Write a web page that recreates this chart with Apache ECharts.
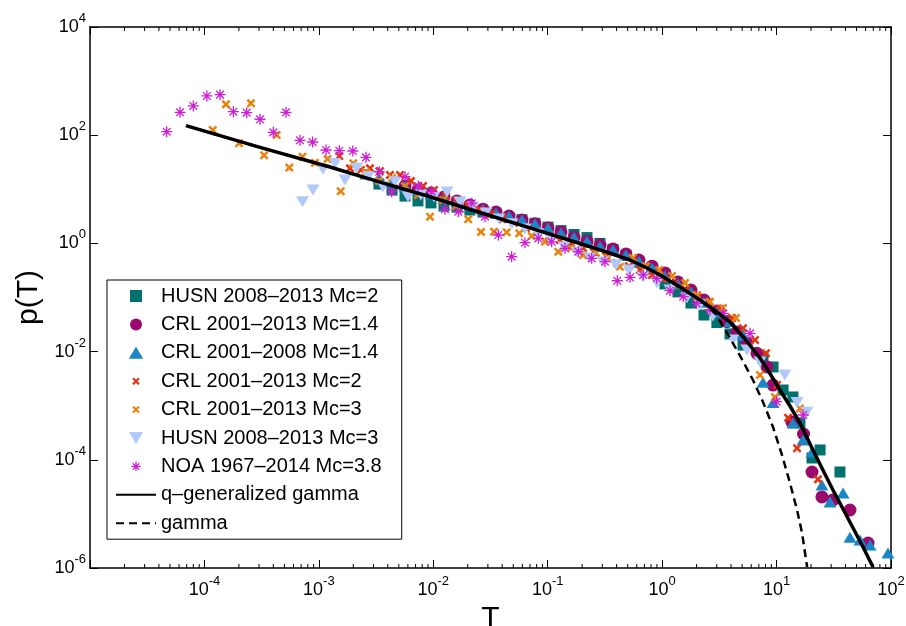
<!DOCTYPE html>
<html><head><meta charset="utf-8">
<script src="https://cdn.jsdelivr.net/npm/echarts@6/dist/echarts.min.js"></script>
<style>html,body{margin:0;padding:0;background:#fff}#c{width:906px;height:626px}</style>
</head><body><div id="c"></div>
<script>
const FONT = '"Liberation Sans", Arial, Helvetica, sans-serif';

const seriesNames = ['HUSN 2008–2013 Mc=2','CRL 2001–2013 Mc=1.4','CRL 2001–2008 Mc=1.4','CRL 2001–2013 Mc=2','CRL 2001–2013 Mc=3','HUSN 2008–2013 Mc=3','NOA 1967–2014 Mc=3.8','q–generalized gamma','gamma'];
const colors = ['#00716c','#9a0a6c','#1b86c6','#e3340d','#e8830f','#b0c8fa','#d01ed4','#000000','#000000'];

// [T, p(T)]
const husnMc2 = [[3.35e-3,12.5],[4.36e-3,9.7],[5.66e-3,7.5],[7.35e-3,6.1],[9.55e-3,5.6],[1.24e-2,4.9],[1.61e-2,4.7],[2.09e-2,4.14],[2.72e-2,3.8],[3.53e-2,3.6],[4.59e-2,3.0],[5.96e-2,2.75],[7.74e-2,2.35],[0.1006,2.0],[0.1306,1.72],[0.1697,1.46],[0.2204,1.28],[0.2863,1.0],[0.372,0.77],[0.483,0.6],[0.627,0.45],[0.815,0.34],[1.059,0.178],[1.375,0.127],[1.786,0.079],[2.32,0.0475],[3.01,0.0345],[3.92,0.0212],[5.09,0.01324],[7.61,0.00762],[9.31,0.0052],[11.4,0.00195],[13.9,0.00145],[16.0,4.8e-4],[20.4,1.08e-4],[24.0,1.52e-4],[35.8,5.95e-5]];
const crl0113Mc14 = [[5.66e-3,11.5],[7.35e-3,9.7],[9.55e-3,8.5],[1.24e-2,7.2],[1.61e-2,6.1],[2.09e-2,5.13],[2.72e-2,4.3],[3.53e-2,3.8],[4.59e-2,3.2],[5.96e-2,2.71],[7.74e-2,2.3],[0.1006,1.93],[0.1306,1.63],[0.1697,1.30],[0.2204,1.10],[0.2863,0.934],[0.372,0.79],[0.483,0.64],[0.627,0.493],[0.815,0.38],[1.059,0.285],[1.375,0.193],[1.786,0.1376],[2.32,0.0899],[3.01,0.056],[3.69,0.0359],[4.51,0.023],[5.51,0.0144],[6.74,0.0093],[8.25,0.0052],[9.31,0.00241],[13.6,5.0e-4],[17.2,3.0e-4],[20.4,5.95e-5],[24.9,2.06e-5],[31.1,1.81e-5],[43.8,1.18e-5],[63.0,2.9e-6]];
const crl0108Mc14 = [[2.58e-3,19.2],[3.35e-3,16.1],[4.36e-3,13.6],[5.66e-3,11.5],[7.35e-3,9.7],[9.55e-3,8.2],[1.24e-2,6.9],[1.61e-2,6.1],[2.09e-2,5.13],[2.72e-2,4.3],[3.53e-2,3.65],[4.59e-2,3.2],[5.96e-2,2.71],[7.74e-2,2.3],[0.1006,1.93],[0.1306,1.56],[0.1697,1.30],[0.2204,1.10],[0.2863,0.89],[0.372,0.755],[0.483,0.61],[0.627,0.47],[0.815,0.35],[1.059,0.25],[1.375,0.178],[1.786,0.127],[2.32,0.082],[3.01,0.054],[3.92,0.0359],[5.09,0.0203],[7.61,0.0027],[9.31,0.00115],[13.9,4.8e-4],[17.0,2.32e-4],[20.4,1.39e-4],[24.9,3.42e-5],[29.3,1.66e-5],[38.1,2.43e-5],[43.8,3.7e-6],[53.6,3.29e-6],[65.5,2.66e-6],[94.1,1.9e-6]];
const crl0113Mc2 = [[1.509e-3,41.3],[1.871e-3,24.4],[2.32e-3,22.7],[2.80e-3,24.4],[3.42e-3,21.8],[4.18e-3,18.4],[5.12e-3,18.4],[6.39e-3,14.3],[8.13e-3,11.5],[1.014e-2,9.7],[1.291e-2,7.5],[1.61e-2,6.1],[2.01e-2,5.13],[2.56e-2,4.14],[3.19e-2,3.5],[4.07e-2,2.83],[5.07e-2,2.4],[6.46e-2,1.93],[8.06e-2,1.63],[0.1026,1.37],[0.128,1.156],[0.1597,0.98],[0.2034,0.82],[0.254,0.69],[0.323,0.585],[0.403,0.435],[0.513,0.38],[0.640,0.322],[0.815,0.261],[1.017,0.22],[1.295,0.17],[1.616,0.1376],[2.017,0.106],[2.57,0.082],[3.20,0.061],[4.08,0.0418],[5.09,0.0271],[6.48,0.0164],[8.08,0.0093],[10.1,0.00241],[12.6,6.0e-4],[15.1,1.64e-4],[23.0,4.35e-5]];
const crl0113Mc3 = [[1.181e-4,125],[1.543e-4,372],[2.005e-4,71],[2.55e-4,388],[3.32e-4,42.5],[4.28e-4,101],[5.52e-4,25.2],[7.19e-4,40],[9.25e-4,30.8],[1.19e-3,36.5],[1.552e-3,9.2],[2.0e-3,30.4],[2.58e-3,20.8],[3.35e-3,14.3],[4.36e-3,16.1],[5.66e-3,11.5],[7.35e-3,7.85],[9.36e-3,3.1],[1.216e-2,6.34],[1.579e-2,4.9],[2.02e-2,2.8],[2.61e-2,1.63],[3.39e-2,1.65],[4.38e-2,1.61],[5.64e-2,1.54],[7.24e-2,1.37],[9.47e-2,1.08],[0.1237,0.70],[0.1597,0.82],[0.2034,0.61],[0.264,0.67],[0.336,0.54],[0.428,0.37],[0.556,0.54],[0.722,0.38],[0.939,0.322],[1.219,0.25],[1.584,0.186],[2.017,0.1112],[2.62,0.0836],[3.40,0.064],[4.42,0.0418],[7.16,0.00369],[9.69,0.00145],[16.0,8.9e-4]];
const husnMc3 = [[7.19e-4,5.9],[8.89e-4,9.7],[1.087e-3,23.4],[1.384e-3,29.9],[1.692e-3,14.9],[2.14e-3,24.4],[2.69e-3,17.1],[3.63e-3,11.2],[4.63e-3,13.8],[6.01e-3,7.3],[7.81e-3,7.85],[1.014e-2,7.2],[1.318e-2,8.9],[1.712e-2,5.85],[2.22e-2,4.7],[2.89e-2,3.65],[3.75e-2,2.83],[4.87e-2,2.3],[6.33e-2,1.85],[8.22e-2,1.5],[0.1068,1.156],[0.1388,0.86],[0.1803,0.69],[0.234,0.54],[0.304,0.455],[0.395,0.399],[0.513,0.322],[0.680,0.24],[0.902,0.186],[1.171,0.1376],[1.649,0.099],[2.14,0.0727],[2.78,0.0455],[4.16,0.0164],[5.51,0.0107],[7.16,0.0064],[11.8,0.00369],[15.1,0.00115],[18.4,7.6e-4]];
const noaMc38 = [[4.68e-5,116],[6.12e-5,265],[7.99e-5,347],[1.05e-4,531],[1.37e-4,561],[1.79e-4,272],[2.34e-4,261],[3.06e-4,197],[4.0e-4,113],[5.16e-4,265],[6.84e-4,80.5],[8.83e-4,74.8],[1.155e-3,53.3],[1.51e-3,51.7],[1.98e-3,51],[2.58e-3,39],[3.37e-3,21.1],[4.33e-3,9.03],[5.66e-3,17.1],[7.40e-3,11.5],[9.68e-3,9.03],[1.265e-2,4.27],[1.654e-2,3.85],[2.166e-2,5.51],[2.83e-2,3.12],[3.70e-2,1.43],[4.84e-2,0.568],[6.33e-2,1.03],[8.27e-2,1.24],[0.1083,1.07],[0.1416,0.812],[0.185,0.703],[0.2423,0.530],[0.3167,0.459],[0.4055,0.204],[0.5236,0.236],[0.684,0.261],[0.896,0.2265],[1.171,0.1336],[1.53,0.1035],[2.0,0.0781],[2.62,0.0587],[3.42,0.051],[5.86,0.0218],[10.0,1.19e-3],[17.1,6.73e-4]];

const qGammaT = [6.9e-5,3.06e-4,1.25e-3,3.42e-3,9.35e-3,2.56e-2,0.070,0.1914,0.3167,0.524,0.708,0.957,1.432,2.14,2.90,3.92,5.30,7.16,8.75,10.7,13.1,16.0,20.8,25.4,31.1,38.1,46.6,56.9,69.7];
const qGammaP = [150,59.4,25.8,13.6,7.29,3.72,1.93,0.995,0.708,0.493,0.366,0.261,0.156,0.0899,0.0575,0.0352,0.0171,0.00762,0.00394,0.00195,9.87e-4,4.79e-4,1.52e-4,6.48e-5,2.77e-5,1.23e-5,5.48e-6,2.44e-6,1.04e-6];
const gammaT = [6.9e-5,3.06e-4,1.25e-3,3.42e-3,9.35e-3,2.56e-2,0.070,0.1914,0.3167,0.524,0.708,0.957,1.432,2.14,2.90,3.92,4.94,6.22,7.61,9.31,11.15,13.1,15.1,16.7,18.5];
const gammaP = [150,59.4,25.8,13.6,7.29,3.72,1.93,0.995,0.708,0.493,0.366,0.261,0.156,0.0899,0.0516,0.0178,0.00746,0.00299,0.00117,4.04e-4,1.23e-4,3.72e-5,1.18e-5,4.44e-6,1.04e-6];

const X_MIN = 1e-5, X_MAX = 1e2, Y_MIN = 1e-6, Y_MAX = 1e4;
const xMinorTicks = [2e-5,3e-5,4e-5,5e-5,6e-5,7e-5,8e-5,9e-5,2e-4,3e-4,4e-4,5e-4,6e-4,7e-4,8e-4,9e-4,2e-3,3e-3,4e-3,5e-3,6e-3,7e-3,8e-3,9e-3,0.02,0.03,0.04,0.05,0.06,0.07,0.08,0.09,0.2,0.3,0.4,0.5,0.6,0.7,0.8,0.9,2,3,4,5,6,7,8,9,20,30,40,50,60,70,80,90];

const SQ_ICON = 'path://M0,0L10,0L10,10L0,10Z';
const TRI_ICON = 'path://M6,0L12,10L0,10Z';
const X_SYM = 'path://M0,2L2,0L5,3L8,0L10,2L7,5L10,8L8,10L5,7L2,10L0,8L3,5Z';
const X_ICON = 'path://M-3,-3M13,13M0,2L2,0L5,3L8,0L10,2L7,5L10,8L8,10L5,7L2,10L0,8L3,5Z';
const AST_SYM = 'path://M5,0L5,10M0,5L10,5M1.5,1.5L8.5,8.5M1.5,8.5L8.5,1.5';
const AST_ICON = 'path://M-1.5,-1.5M11.5,11.5M5,0L5,10M0,5L10,5M1.5,1.5L8.5,8.5M1.5,8.5L8.5,1.5';
const DTRI = 'path://M0,0L12,0L6,10Z';

const rich = {
  b: {fontSize: 18, fontFamily: FONT, color: '#000', lineHeight: 30, verticalAlign: 'middle'},
  s: {fontSize: 13, fontFamily: FONT, color: '#000', lineHeight: 10, verticalAlign: 'top'}
};
function expOf(v) { return Math.round(Math.log10(v)); }
function xLabel(v) { const e = expOf(v); return e === -5 ? '' : '{b|10}{s|' + e + '}'; }
function yLabel(v) { return '{b|10}{s|' + expOf(v) + '}'; }

const axLine = {show: true, onZero: false, lineStyle: {color: '#000', width: 1.5}};
function xAxisDef(pos, label) {
  return {
    type: 'log', logBase: 10, min: X_MIN, max: X_MAX, interval: 1, position: pos, gridIndex: 0,
    axisLine: axLine,
    axisTick: {show: true, inside: true, length: 8, lineStyle: {color: '#000', width: 1}},
    axisLabel: label ? {show: true, margin: 7, formatter: xLabel, rich: rich} : {show: false},
    splitLine: {show: false}, minorTick: {show: false}, minorSplitLine: {show: false},
    name: label ? 'T' : '', nameLocation: 'middle', nameGap: 22,
    nameTextStyle: {fontSize: 30, fontFamily: FONT, color: '#000'}
  };
}
function yAxisDef(pos, label) {
  return {
    type: 'log', logBase: 10, min: Y_MIN, max: Y_MAX, interval: 2, position: pos, gridIndex: 0,
    axisLine: axLine,
    axisTick: {show: true, inside: true, length: 8, lineStyle: {color: '#000', width: 1}},
    axisLabel: label ? {show: true, margin: 4, formatter: yLabel, rich: rich} : {show: false},
    splitLine: {show: false}, minorTick: {show: false},
    name: label ? 'p(T)' : '', nameLocation: 'middle', nameGap: 42,
    nameTextStyle: {fontSize: 30, fontFamily: FONT, color: '#000'}
  };
}

function scatter(i, data, symbol, size, stroke) {
  const s = {
    type: 'scatter', name: seriesNames[i], data: data, symbol: symbol, symbolSize: size,
    xAxisIndex: 0, yAxisIndex: 0, emphasis: {disabled: true}, silent: true,
    itemStyle: {color: colors[i], opacity: 1}
  };
  if (stroke) s.itemStyle = {color: 'transparent', borderColor: colors[i], borderWidth: stroke, opacity: 1};
  return s;
}
function zip(a, b) { return a.map((v, k) => [v, b[k]]); }

const hideSym = {color: 'transparent', borderColor: 'transparent', borderWidth: 0, opacity: 0};

const option = {
  animation: false,
  backgroundColor: '#fff',
  textStyle: {fontFamily: FONT},
  grid: {left: 90, top: 27, right: 15, bottom: 58, containLabel: false, outerBoundsMode: 'none'},
  xAxis: [xAxisDef('bottom', true), xAxisDef('top', false)],
  yAxis: [yAxisDef('left', true), yAxisDef('right', false)],
  legend: {
    orient: 'vertical', left: 107, top: 280, padding: [6, 20, 6, 8],
    itemWidth: 40, itemHeight: 12, itemGap: 8.4,
    borderColor: '#000', borderWidth: 1, backgroundColor: '#fff', borderRadius: 0,
    selectedMode: false,
    textStyle: {fontSize: 20, lineHeight: 20, color: '#000', fontFamily: FONT},
    data: [
      {name: seriesNames[0], icon: SQ_ICON},
      {name: seriesNames[1], icon: 'circle'},
      {name: seriesNames[2], icon: TRI_ICON},
      {name: seriesNames[3], icon: X_ICON},
      {name: seriesNames[4], icon: X_ICON},
      {name: seriesNames[5], icon: DTRI},
      {name: seriesNames[6], icon: AST_ICON, itemStyle: {borderWidth: 1.3}},
      {name: seriesNames[7], itemStyle: hideSym},
      {name: seriesNames[8], itemStyle: hideSym}
    ]
  },
  series: [
    scatter(0, husnMc2, 'rect', 11),
    scatter(1, crl0113Mc14, 'circle', 13),
    scatter(2, crl0108Mc14, 'triangle', [13, 11]),
    scatter(3, crl0113Mc2, X_SYM, 9),
    scatter(4, crl0113Mc3, X_SYM, 9),
    scatter(5, husnMc3, DTRI, [13, 11]),
    scatter(6, noaMc38, AST_SYM, 11, 1.3),
    {type: 'line', name: seriesNames[8], data: zip(gammaT, gammaP), symbol: 'none', smooth: false,
     lineStyle: {color: '#000', width: 2.5, type: [8, 5]}, itemStyle: {color: '#000'}, silent: true, emphasis: {disabled: true}},
    {type: 'line', name: seriesNames[7], data: zip(qGammaT, qGammaP), symbol: 'none', smooth: false,
     lineStyle: {color: '#000', width: 3.5, join: 'round'}, itemStyle: {color: '#000'}, silent: true, emphasis: {disabled: true}},
    {type: 'custom', name: 'minor ticks', data: xMinorTicks.map(v => [v]), silent: true, clip: false,
     xAxisIndex: 0, yAxisIndex: 0, z: 5,
     renderItem: function (params, api) {
       const b = api.coord([api.value(0), Y_MIN]);
       const t = api.coord([api.value(0), Y_MAX]);
       const st = {stroke: '#000', lineWidth: 1};
       return {type: 'group', children: [
         {type: 'line', shape: {x1: b[0], y1: b[1], x2: b[0], y2: b[1] - 4}, style: st},
         {type: 'line', shape: {x1: t[0], y1: t[1], x2: t[0], y2: t[1] + 4}, style: st}
       ]};
     }}
  ]
};
const chart = echarts.init(document.getElementById('c'), null, {renderer: 'canvas'});
chart.setOption(option);
</script>
</body></html>
